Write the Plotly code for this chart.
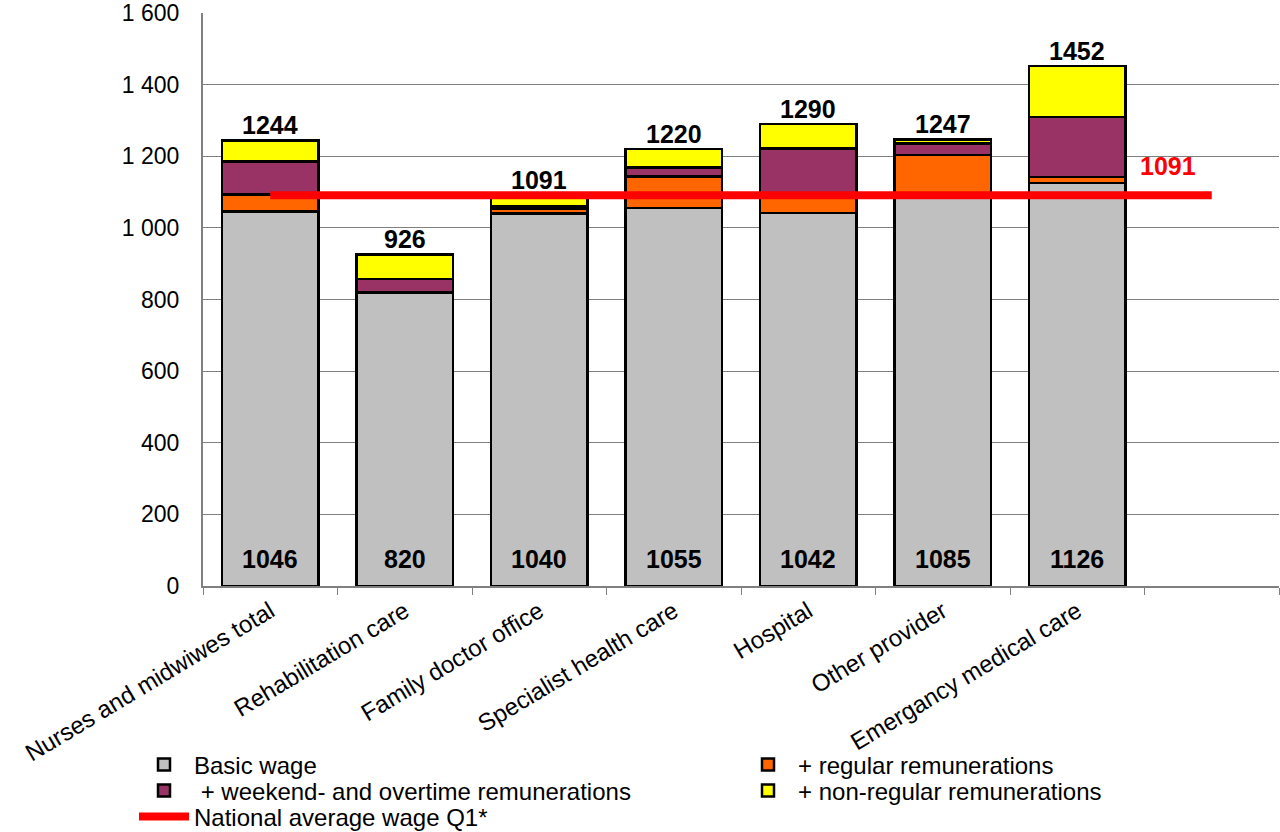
import plotly.graph_objects as go

categories = ["Nurses and midwiwes total", "Rehabilitation care", "Family doctor office",
              "Specialist health care", "Hospital", "Other provider", "Emergancy medical care", " "]
basic_wage = [1046, 820, 1040, 1055, 1042, 1085, 1126]
regular = [47, 1, 14, 88, 48, 118, 16]
weekend_overtime = [92, 36, 6, 25, 132, 32, 168]
non_regular = [59, 69, 31, 52, 68, 12, 142]
totals = [1244, 926, 1091, 1220, 1290, 1247, 1452]
national_avg = [1091] * 8
y_tickvals = [0, 200, 400, 600, 800, 1000, 1200, 1400, 1600]
y_ticktext = ["0", "200", "400", "600", "800", "1 000", "1 200", "1 400", "1 600"]

cats = categories[:7]
font_family = "Liberation Sans, Arial, sans-serif"
line = dict(color="black", width=2.5)

fig = go.Figure()
fig.add_trace(go.Bar(x=cats, y=basic_wage, name="Basic wage", legend="legend",
                     marker=dict(color="#C0C0C0", line=line)))
fig.add_trace(go.Bar(x=cats, y=regular, name="+ regular remunerations", legend="legend2",
                     marker=dict(color="#FF6600", line=line)))
fig.add_trace(go.Bar(x=cats, y=weekend_overtime, name=" + weekend- and overtime remunerations",
                     legend="legend3", marker=dict(color="#993366", line=line)))
fig.add_trace(go.Bar(x=cats, y=non_regular, name="+ non-regular remunerations", legend="legend4",
                     marker=dict(color="#FFFF00", line=line)))
fig.add_trace(go.Scatter(x=categories, y=national_avg, name="National average wage Q1*",
                         legend="legend5", mode="lines",
                         line=dict(color="#FF0000", width=8)))

label_font = dict(size=25, color="black", family=font_family)
for c, t in zip(cats, totals):
    fig.add_annotation(x=c, y=t, text=f"<b>{t}</b>", showarrow=False, yanchor="bottom",
                       yshift=-1, font=label_font)
for c, b in zip(cats, basic_wage):
    fig.add_annotation(x=c, y=0, text=f"<b>{b}</b>", showarrow=False, yanchor="bottom",
                       yshift=11, font=label_font)
fig.add_annotation(x=categories[-1], y=national_avg[-1], text=f"<b>{national_avg[-1]}</b>",
                   showarrow=False, yanchor="bottom", xshift=-44, yshift=13,
                   font=dict(size=25, color="#FF0000", family=font_family))

# plot area in page pixels
PL, PT, PW, PH = 203, 13, 1076, 573
def px_x(sx):
    return (sx - PL) / PW
def px_y(sy):
    return (PT + PH - sy) / PH

leg_common = dict(orientation="v", xanchor="left", yanchor="middle",
                  font=dict(size=24, family=font_family), itemwidth=50,
                  bgcolor="rgba(0,0,0,0)")
x_left = px_x(134)
x_right = px_x(738)
row_y = [px_y(765), px_y(791), px_y(817)]

fig.update_layout(
    barmode="stack", bargap=0.286,
    width=1280, height=832,
    margin=dict(l=PL, r=1280 - PL - PW, t=PT, b=832 - PT - PH, autoexpand=False),
    plot_bgcolor="white", paper_bgcolor="white",
    font=dict(family=font_family, size=18, color="black"),
    showlegend=True,
    legend=dict(x=x_left, y=row_y[0], **leg_common),
    legend2=dict(x=x_right, y=row_y[0], **leg_common),
    legend3=dict(x=x_left, y=row_y[1], **leg_common),
    legend4=dict(x=x_right, y=row_y[1], **leg_common),
    legend5=dict(x=x_left, y=row_y[2], **leg_common),
)
fig.update_xaxes(categoryorder="array", categoryarray=categories, tickson="boundaries",
                 range=[-0.5, len(categories) - 0.5],
                 ticks="outside", ticklen=7, tickcolor="#808080", showline=True,
                 linecolor="#808080", linewidth=2, tickangle=-31, automargin=False,
                 tickfont=dict(size=24))
fig.update_yaxes(range=[0, 1600], tickvals=y_tickvals, ticktext=y_ticktext, showgrid=True,
                 gridcolor="#808080", gridwidth=1, showline=True, linecolor="#808080",
                 linewidth=2, ticks="outside", ticklen=17, tickcolor="rgba(0,0,0,0)",
                 tickfont=dict(size=23), zeroline=False, automargin=False,
                 ticklabeloverflow="allow")

fig.write_html("out.html", config={"displayModeBar": False},
               post_script="document.body.style.margin='0px';document.body.style.overflow='hidden';")
